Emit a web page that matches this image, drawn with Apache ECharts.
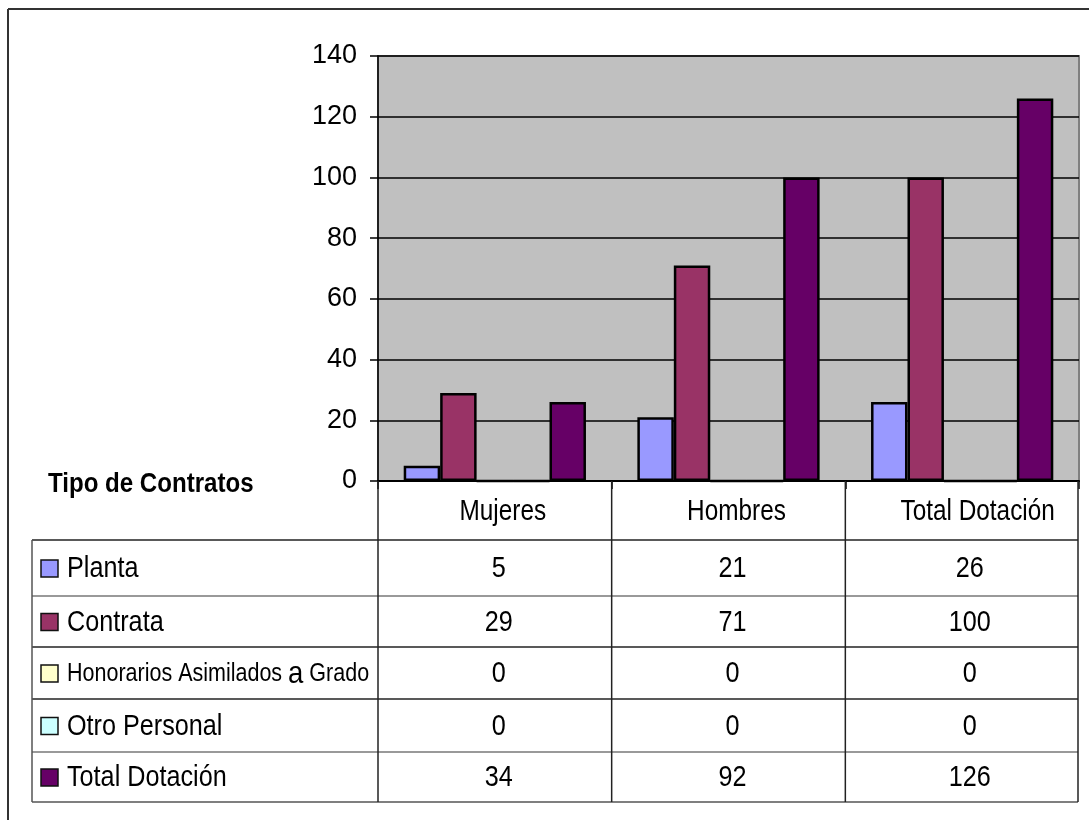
<!DOCTYPE html>
<html>
<head>
<meta charset="utf-8">
<script src="https://cdn.jsdelivr.net/npm/echarts@6/dist/echarts.min.js"></script>
<style>
html,body{margin:0;padding:0;background:#fff;}
#chart{width:1089px;height:820px;}
</style>
</head>
<body>
<div id="chart"></div>
<script>
// ---- data ----
const categories = ['Mujeres', 'Hombres', 'Total Dotación'];
const seriesNames = ['Planta', 'Contrata', 'Honorarios Asimilados a Grado', 'Otro Personal', 'Total Dotación'];
const planta = [5, 21, 26];
const contrata = [29, 71, 100];
const honorarios = [0, 0, 0];
const otroPersonal = [0, 0, 0];
const totalDotacionBars = [26, 100, 126];   // heights of the bars as drawn
const totalDotacionTable = [34, 92, 126];   // values printed in the data table
const yMin = 0, yMax = 140, yStep = 20;
const colors = ['#9999FF', '#993366', '#FFFFCC', '#CCFFFF', '#660066'];
const tableTitle = 'Tipo de Contratos';

// ---- layout ----
const G = {left: 378, top: 56, width: 701, height: 425};
const REG = "'Liberation Sans',Arial,sans-serif";
const NX = 0.84; // horizontal squeeze to imitate a narrow face
const rowEdges = [481, 540, 596, 647, 699, 752, 802];
const tableLeft = 32, tableRight = 1078;
const colW = G.width / categories.length;
const colEdges = [G.left, G.left + colW, G.left + 2 * colW, tableRight];

const barSeriesData = [planta, contrata, honorarios, otroPersonal, totalDotacionBars];
const tableRows = [planta, contrata, honorarios, otroPersonal, totalDotacionTable];

function txt(x, y, s, font, align, sx) {
  return {type: 'text', x: x, y: y, scaleX: sx || NX, z: 11,
    style: {x: 0, y: 0, text: s, font: font, fill: '#000', textAlign: align, textVerticalAlign: 'middle'}};
}

const graphic = [];
// outer frame (top and left)
graphic.push({type: 'line', shape: {x1: 8, y1: 9, x2: 1089, y2: 9}, style: {stroke: '#333', lineWidth: 2}, z: 10});
graphic.push({type: 'line', shape: {x1: 8, y1: 9, x2: 8, y2: 820}, style: {stroke: '#333', lineWidth: 2}, z: 10});

// table horizontal lines
const hColors = ['#222', '#222', '#777', '#222', '#222', '#777', '#555'];
for (let i = 1; i < rowEdges.length; i++) {
  graphic.push({type: 'line', shape: {x1: tableLeft, y1: rowEdges[i], x2: tableRight, y2: rowEdges[i]},
    style: {stroke: hColors[i], lineWidth: 1.5}, z: 10});
}
// vertical lines
graphic.push({type: 'line', shape: {x1: tableLeft, y1: rowEdges[1], x2: tableLeft, y2: rowEdges[6]}, style: {stroke: '#555', lineWidth: 1.5}, z: 10});
colEdges.forEach(function (x) {
  graphic.push({type: 'line', shape: {x1: x, y1: rowEdges[0], x2: x, y2: rowEdges[6]}, style: {stroke: '#222', lineWidth: 1.5}, z: 10});
});

// header category names
categories.forEach(function (c, j) {
  const cx = (colEdges[j] + colEdges[j + 1]) / 2 + 8 + (j === 2 ? 8 : 0);
  graphic.push(txt(cx, (rowEdges[0] + rowEdges[1]) / 2 + 1, c, '29px ' + REG, 'center'));
});

// row labels, legend keys and values
seriesNames.forEach(function (name, i) {
  const cy = (rowEdges[i + 1] + rowEdges[i + 2]) / 2;
  graphic.push({type: 'rect', shape: {x: 41, y: cy - 8, width: 17, height: 17},
    style: {fill: colors[i], stroke: '#111', lineWidth: 1.5}, z: 11});
  if (i === 2) {
    graphic.push({type: 'text', x: 67, y: cy + 1, scaleX: 0.86, z: 11,
      style: {x: 0, y: 0, rich: {s: {font: '25px ' + REG, fill: '#000'}, b: {font: '32px ' + REG, fill: '#000'}},
        text: '{s|Honorarios Asimilados }{b|a}{s| Grado}', textVerticalAlign: 'middle', textAlign: 'left'}});
  } else {
    graphic.push(txt(67, cy + 1, name, '30px ' + REG, 'left'));
  }
  tableRows[i].forEach(function (v, j) {
    const cx = (colEdges[j] + colEdges[j + 1]) / 2 + 4 + (j === 2 ? 4 : 0);
    graphic.push(txt(cx, cy + 1, String(v), '30px ' + REG, 'center'));
  });
});

// table title
graphic.push(txt(48, 484, tableTitle, 'bold 28px ' + REG, 'left', 0.86));

const chart = echarts.init(document.getElementById('chart'), null, {renderer: 'canvas'});
chart.setOption({
  backgroundColor: '#fff',
  animation: false,
  grid: {left: G.left, top: G.top, width: G.width, height: G.height, show: true,
    backgroundColor: '#C0C0C0', borderColor: '#808080', borderWidth: 2},
  xAxis: {
    type: 'category', data: categories,
    axisLine: {show: true, lineStyle: {color: '#000', width: 2}},
    axisTick: {show: true, length: 8, lineStyle: {color: '#000', width: 1.5}},
    axisLabel: {show: false}
  },
  yAxis: {
    type: 'value', min: yMin, max: yMax, interval: yStep,
    axisLine: {show: true, lineStyle: {color: '#000', width: 1.5}},
    axisTick: {show: true, length: 8, lineStyle: {color: '#000', width: 1.5}},
    axisLabel: {fontSize: 27, fontFamily: REG, color: '#000', margin: 21},
    splitLine: {show: true, lineStyle: {color: '#000', width: 1.5}}
  },
  series: seriesNames.map(function (n, i) {
    return {
      name: n, type: 'bar', data: barSeriesData[i],
      barGap: '0%', barCategoryGap: '22%',
      itemStyle: {color: colors[i], borderColor: '#000', borderWidth: 2.5},
      z: 5
    };
  }),
  graphic: graphic
});
</script>
</body>
</html>
